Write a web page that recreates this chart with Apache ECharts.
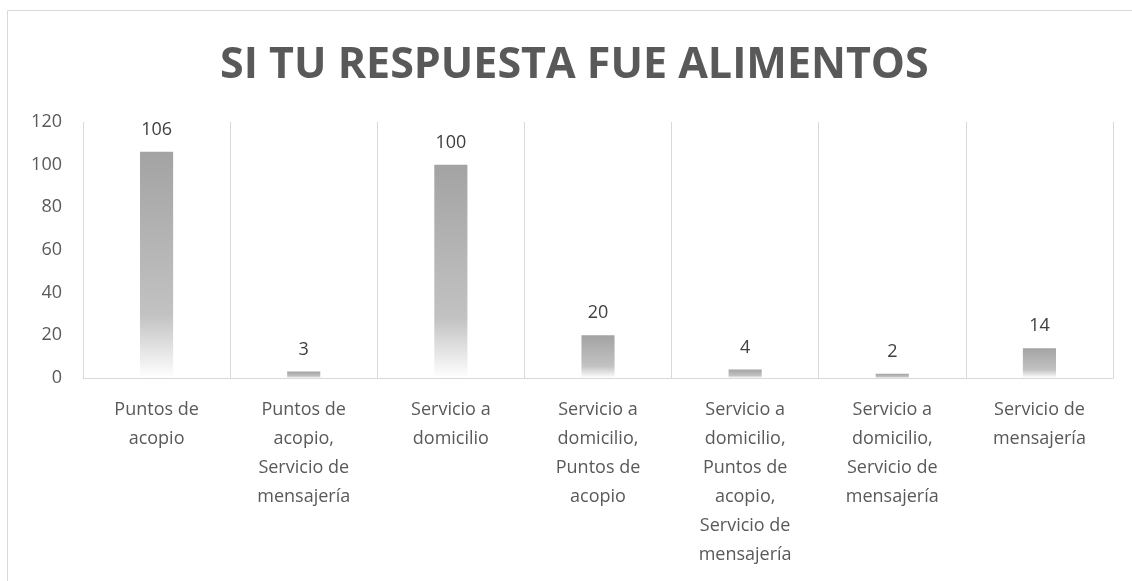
<!DOCTYPE html>
<html>
<head>
<meta charset="utf-8">
<script src="https://cdn.jsdelivr.net/npm/echarts@6/dist/echarts.min.js"></script>
<style>
html,body{margin:0;padding:0;background:#fff;}
#chart{width:1132px;height:581px;}
</style>
</head>
<body>
<div id="chart"></div>
<script>
const titleText = 'SI TU RESPUESTA FUE ALIMENTOS';
const categories = [
  'Puntos de\nacopio',
  'Puntos de\nacopio,\nServicio de\nmensajería',
  'Servicio a\ndomicilio',
  'Servicio a\ndomicilio,\nPuntos de\nacopio',
  'Servicio a\ndomicilio,\nPuntos de\nacopio,\nServicio de\nmensajería',
  'Servicio a\ndomicilio,\nServicio de\nmensajería',
  'Servicio de\nmensajería'
];
const values = [106, 3, 100, 20, 4, 2, 14];

const chart = echarts.init(document.getElementById('chart'), null, {renderer: 'canvas'});
const font = '"Open Sans", "Noto Sans", sans-serif';
chart.setOption({
  backgroundColor: '#ffffff',
  animation: false,
  graphic: [{
    type: 'rect',
    shape: {x: 7.5, y: 10.5, width: 1300, height: 800},
    style: {fill: 'none', stroke: '#d9d9d9', lineWidth: 1},
    silent: true
  }],
  title: {
    text: titleText,
    left: 215,
    top: 39,
    textStyle: {fontFamily: font, fontSize: 43, fontWeight: 'bold', color: '#595959'}
  },
  grid: {left: 83, right: 19, top: 122, bottom: 203, containLabel: false},
  xAxis: {
    type: 'category',
    data: categories,
    axisLine: {show: true, lineStyle: {color: '#d9d9d9', width: 1}},
    axisTick: {show: false},
    splitLine: {show: true, lineStyle: {color: '#d9d9d9', width: 1}},
    axisLabel: {
      interval: 0,
      margin: 17,
      fontFamily: font,
      fontSize: 18,
      lineHeight: 29,
      color: '#595959',
      align: 'center'
    }
  },
  yAxis: {
    type: 'value',
    min: 0,
    max: 120,
    interval: 20,
    axisLine: {show: false},
    axisTick: {show: false},
    splitLine: {show: false},
    axisLabel: {margin: 21, fontFamily: font, fontSize: 18, color: '#595959'}
  },
  series: [{
    type: 'bar',
    data: values,
    barWidth: '22.5%',
    itemStyle: {
      color: new echarts.graphic.LinearGradient(0, 0, 0, 1, [
        {offset: 0, color: '#a3a3a3'},
        {offset: 0.72, color: '#c2c2c2'},
        {offset: 1, color: '#ffffff'}
      ])
    },
    label: {
      show: true,
      position: 'top',
      distance: 13,
      fontFamily: font,
      fontSize: 18,
      color: '#404040'
    }
  }]
});
</script>
</body>
</html>
